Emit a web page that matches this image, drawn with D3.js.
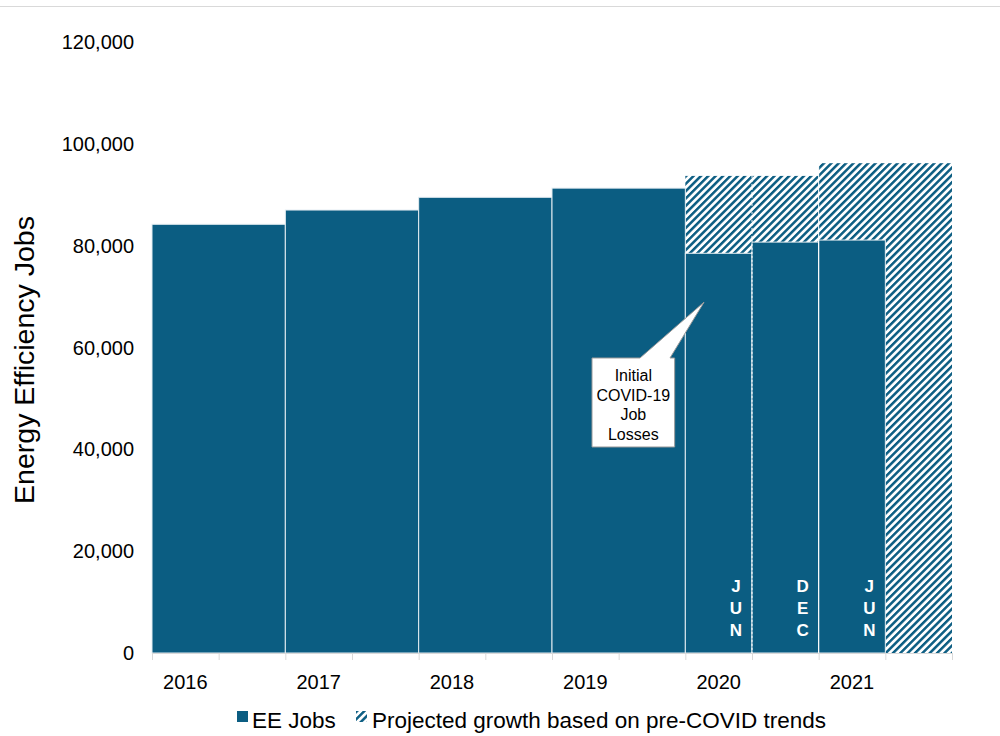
<!DOCTYPE html>
<html>
<head>
<meta charset="utf-8">
<script src="https://cdn.jsdelivr.net/npm/d3@7"></script>
<style>
  body { margin: 0; background: #fff; }
  svg { display: block; font-family: "Liberation Sans", Arial, sans-serif; }
</style>
</head>
<body>
<svg id="chart"></svg>
<script>
// data
var yearLabels = ['2016', '2017', '2018', '2019', '2020', '2021'];
var eeStart = [2016, 2017, 2018, 2019, 2020, 2020.5, 2021];
var eeSpan = [1, 1, 1, 1, 0.5, 0.5, 0.5];
var eeValues = [84200, 87000, 89500, 91300, 78500, 80700, 81100];
var projStart = [2020, 2021];
var projValues = [93700, 96200];
var monthLabels = ['JUN', 'DEC', 'JUN'];
var monthBarIndex = [4, 5, 6];
var yTicks = [0, 20000, 40000, 60000, 80000, 100000, 120000];

var W = 1000, H = 736;
var barColor = '#0b5d82';

var svg = d3.select('#chart').attr('width', W).attr('height', H);

var x = d3.scaleLinear().domain([2016, 2022]).range([152, 952]);
var y = d3.scaleLinear().domain([0, 120000]).range([653, 42]);

// hatch pattern
var defs = svg.append('defs');
var pat = defs.append('pattern')
  .attr('id', 'hatch')
  .attr('patternUnits', 'userSpaceOnUse')
  .attr('width', 5.2)
  .attr('height', 10)
  .attr('patternTransform', 'rotate(45)');
pat.append('rect').attr('width', 5.2).attr('height', 10).attr('fill', '#fff');
pat.append('rect').attr('x', 0).attr('width', 2.5).attr('height', 10).attr('fill', barColor);

// top border line
svg.append('line')
  .attr('x1', 0).attr('x2', W).attr('y1', 6.5).attr('y2', 6.5)
  .attr('stroke', '#d9d9d9').attr('stroke-width', 1);

// projected (hatched) bars behind
svg.selectAll('.proj')
  .data(projValues)
  .enter().append('rect')
  .attr('class', 'proj')
  .attr('x', function(d, i) { return x(projStart[i]); })
  .attr('width', function(d, i) { return x(projStart[i] + 1) - x(projStart[i]); })
  .attr('y', function(d) { return y(d); })
  .attr('height', function(d) { return y(0) - y(d); })
  .attr('fill', 'url(#hatch)');

// EE bars
svg.selectAll('.bar')
  .data(eeValues)
  .enter().append('rect')
  .attr('class', 'bar')
  .attr('x', function(d, i) { return x(eeStart[i]); })
  .attr('width', function(d, i) { return x(eeStart[i] + eeSpan[i]) - x(eeStart[i]); })
  .attr('y', function(d) { return y(d); })
  .attr('height', function(d) { return y(0) - y(d); })
  .attr('fill', barColor)
  .attr('stroke', '#e4edf2')
  .attr('stroke-width', 1);

// dotted divider between JUN and DEC 2020
svg.append('line')
  .attr('x1', x(2020.5)).attr('x2', x(2020.5))
  .attr('y1', y(projValues[0])).attr('y2', y(0))
  .attr('stroke', '#fff').attr('stroke-width', 1)
  .attr('stroke-dasharray', '2,2');

// solid divider between the 2020 and 2021 hatch
svg.append('line')
  .attr('x1', x(2021)).attr('x2', x(2021))
  .attr('y1', y(projValues[1])).attr('y2', y(0))
  .attr('stroke', '#fff').attr('stroke-width', 1);

// month labels, stacked letters
monthLabels.forEach(function(m, k) {
  var i = monthBarIndex[k];
  var cx = x(eeStart[i] + eeSpan[i]) - 16;
  m.split('').forEach(function(ch, j) {
    svg.append('text')
      .attr('x', cx)
      .attr('y', 592 + j * 22)
      .attr('text-anchor', 'middle')
      .attr('font-size', 17)
      .attr('font-weight', 'bold')
      .attr('fill', '#fff')
      .text(ch);
  });
});

// x axis
var xAxis = svg.append('g')
  .attr('transform', 'translate(0,' + y(0) + ')')
  .call(d3.axisBottom(x)
    .tickValues(d3.range(2016, 2022.01, 0.5))
    .tickSize(7)
    .tickFormat(''));
xAxis.select('.domain').attr('stroke', '#d9d9d9');
xAxis.selectAll('.tick line').attr('stroke', '#d9d9d9');

svg.selectAll('.year')
  .data(yearLabels)
  .enter().append('text')
  .attr('class', 'year')
  .attr('x', function(d) { return x(+d + 0.25); })
  .attr('y', 689)
  .attr('text-anchor', 'middle')
  .attr('font-size', 20)
  .attr('fill', '#000')
  .text(function(d) { return d; });

// y axis labels
svg.selectAll('.ytick')
  .data(yTicks)
  .enter().append('text')
  .attr('class', 'ytick')
  .attr('x', 134)
  .attr('y', function(d) { return y(d); })
  .attr('dy', '0.35em')
  .attr('text-anchor', 'end')
  .attr('font-size', 20)
  .attr('fill', '#000')
  .text(function(d) { return d3.format(',')(d); });

// y axis title
svg.append('text')
  .attr('transform', 'translate(34,' + 360 + ') rotate(-90)')
  .attr('text-anchor', 'middle')
  .attr('font-size', 28.5)
  .attr('fill', '#000')
  .text('Energy Efficiency Jobs');

// callout
var bx0 = x(2019.3), bx1 = x(2019.92), by0 = y(57940), by1 = y(40460);
var tipX = x(2020.14), tipY = y(68900);
var callout = d3.path();
callout.moveTo(bx0, by0);
callout.lineTo(bx0 + 48, by0);
callout.lineTo(tipX, tipY);
callout.lineTo(bx0 + 78, by0);
callout.lineTo(bx1, by0);
callout.lineTo(bx1, by1);
callout.lineTo(bx0, by1);
callout.closePath();
svg.append('path')
  .attr('d', callout.toString())
  .attr('fill', '#fff')
  .attr('stroke', '#9a9a9a')
  .attr('stroke-width', 1);

var calloutLines = ['Initial', 'COVID-19', 'Job', 'Losses'];
svg.selectAll('.callout')
  .data(calloutLines)
  .enter().append('text')
  .attr('class', 'callout')
  .attr('x', (bx0 + bx1) / 2)
  .attr('y', function(d, i) { return 381 + i * 19.5; })
  .attr('text-anchor', 'middle')
  .attr('font-size', 16)
  .attr('fill', '#000')
  .text(function(d) { return d; });

// legend
var lg = svg.append('g');
lg.append('rect')
  .attr('x', 237).attr('y', 711).attr('width', 11).attr('height', 11)
  .attr('fill', barColor);
lg.append('text')
  .attr('x', 252).attr('y', 728)
  .attr('font-size', 22.5).attr('fill', '#000')
  .text('EE Jobs');
lg.append('rect')
  .attr('x', 356).attr('y', 711).attr('width', 11).attr('height', 11)
  .attr('fill', 'url(#hatch)');
lg.append('text')
  .attr('x', 372).attr('y', 728)
  .attr('font-size', 22.5).attr('fill', '#000')
  .text('Projected growth based on pre-COVID trends');
</script>
</body>
</html>
